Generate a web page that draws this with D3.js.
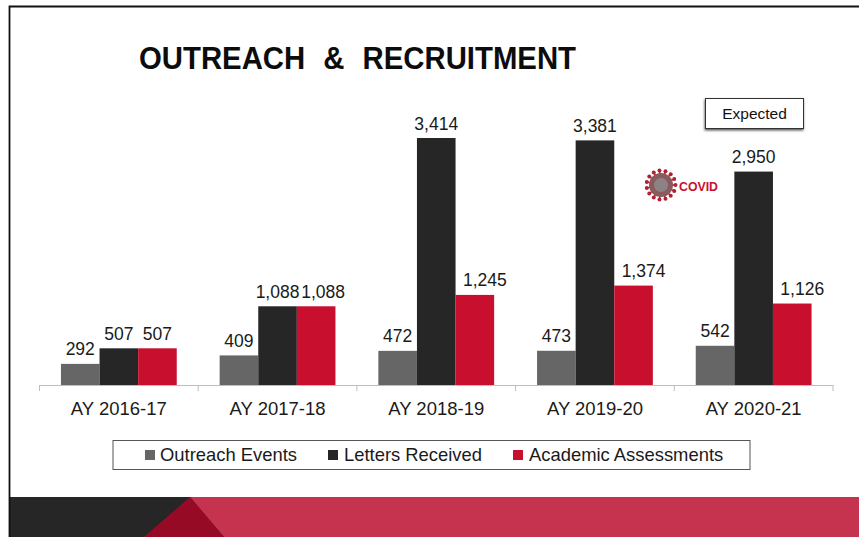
<!DOCTYPE html>
<html><head><meta charset="utf-8">
<script src="https://cdn.jsdelivr.net/npm/d3@7/dist/d3.min.js"></script>
<style>html,body{margin:0;padding:0;background:#fff}svg{display:block}text{font-family:"Liberation Sans",Arial,sans-serif}</style>
</head><body><svg id="c" width="859" height="537"></svg>
<script>
const categories=["AY 2016-17","AY 2017-18","AY 2018-19","AY 2019-20","AY 2020-21"];
const seriesNames=["Outreach Events","Letters Received","Academic Assessments"];
const outreach=[292,409,472,473,542];
const letters=[507,1088,3414,3381,2950];
const assessments=[507,1088,1245,1374,1126];
const colors=["#666666","#262626","#c8102e"];
const all=[outreach,letters,assessments];
const fmt=d3.format(",");
const svg=d3.select("#c");
svg.append("rect").attr("width",859).attr("height",537).attr("fill","#fff");
// footer
svg.append("rect").attr("x",10).attr("y",497).attr("width",849).attr("height",40).attr("fill","#262626");
svg.append("polygon").attr("points","190,497 859,497 859,537 224,537").attr("fill","#c5334f");
svg.append("polygon").attr("points","190,497 224,537 144,537").attr("fill","#960a26");
// frame
svg.append("path").attr("d","M9.5,537V6.5H859").attr("fill","none").attr("stroke","#111").attr("stroke-width",1.8);
// title
svg.append("text").attr("x",139).attr("y",69).attr("font-size",32).attr("font-weight",700)
  .attr("textLength",437).attr("lengthAdjust","spacingAndGlyphs").style("white-space","pre").style("word-spacing","1px")
  .attr("fill","#0c0c0c").text("OUTREACH  &  RECRUITMENT");
// scales
const x=d3.scaleBand().domain(categories).range([39.5,833]);
const bw=38.6;
const x1=d3.scaleBand().domain(seriesNames).range([0,bw*3]);
const y=d3.scaleLinear().domain([0,3414]).range([385,138]);
const axis=d3.axisBottom(x).tickSize(0).tickPadding(17);
const ag=svg.append("g").attr("transform","translate(0,385)").call(axis);
ag.select(".domain").remove();
ag.selectAll("text").attr("font-size",18.5).attr("fill","#1a1a1a").style("font-family",'"Liberation Sans",Arial,sans-serif');
// axis line + ticks between groups
const edges=categories.map(c=>x(c)).concat([x.range()[1]]);
svg.append("line").attr("x1",edges[0]).attr("x2",edges[5]).attr("y1",385.5).attr("y2",385.5).attr("stroke","#bdbdbd").attr("stroke-width",1);
svg.selectAll(".tk").data(edges).join("line").attr("class","tk").attr("x1",d=>d).attr("x2",d=>d).attr("y1",385).attr("y2",391).attr("stroke","#bdbdbd");
// bars
const off=(x.bandwidth()-bw*3)/2;
seriesNames.forEach((s,si)=>{
  const g=svg.append("g");
  g.selectAll("rect").data(all[si]).join("rect")
    .attr("x",(d,i)=>x(categories[i])+off+x1(s)).attr("y",d=>y(d))
    .attr("width",x1.bandwidth()).attr("height",d=>385-y(d)).attr("fill",colors[si]);
  // the reference shifts four-digit assessment labels clear of the neighbouring bar or label
  const nudge=i=>{
    if(si!==2 || assessments[i]<1000) return 0;
    return assessments[i]===letters[i]?7:10;
  };
  g.selectAll("text").data(all[si]).join("text")
    .attr("x",(d,i)=>x(categories[i])+off+x1(s)+x1.bandwidth()/2+nudge(i)).attr("y",d=>y(d)-8.5)
    .attr("text-anchor","middle").attr("font-size",17.5).attr("fill","#1a1a1a").text(fmt);
});
// legend
svg.append("rect").attr("x",113).attr("y",440.5).attr("width",637).attr("height",29).attr("fill","#fff").attr("stroke","#555").attr("stroke-width",1);
const legX=[145,328,513], legT=[160,344,529];
seriesNames.forEach((s,i)=>{
  svg.append("rect").attr("x",legX[i]).attr("y",450).attr("width",10).attr("height",10).attr("fill",colors[i]);
  svg.append("text").attr("x",legT[i]).attr("y",461).attr("font-size",18.4).attr("fill","#1a1a1a").text(s);
});
// Expected box
const shadow=svg.append("defs").append("filter").attr("id","sh").attr("x","-10%").attr("y","-10%").attr("width","120%").attr("height","130%");
shadow.append("feDropShadow").attr("dx",-0.5).attr("dy",1.5).attr("stdDeviation",1).attr("flood-color","#555");
svg.append("rect").attr("x",705.5).attr("y",98.5).attr("width",98).attr("height",30).attr("fill","#fff").attr("stroke","#333").attr("filter","url(#sh)");
svg.append("text").attr("x",754.5).attr("y",119).attr("text-anchor","middle").attr("font-size",15.5).attr("fill","#111").text("Expected");
// COVID marker
const vg=svg.append("g").attr("transform","translate(661,185)");
const spikes=d3.range(0,360,24);
vg.selectAll("line").data(spikes).join("line")
  .attr("x2",d=>15*Math.cos(d*Math.PI/180)).attr("y2",d=>15*Math.sin(d*Math.PI/180))
  .attr("stroke","#a51c2c").attr("stroke-width",1.5);
vg.append("circle").attr("r",12).attr("fill","#8a5a5f");
vg.selectAll("circle.s").data(spikes).join("circle").attr("class","s")
  .attr("cx",d=>14.5*Math.cos(d*Math.PI/180)).attr("cy",d=>14.5*Math.sin(d*Math.PI/180)).attr("r",2).attr("fill","#b3202f");
vg.append("circle").attr("r",7).attr("fill","#8d8d8d").attr("opacity",.8);
svg.append("text").attr("x",679).attr("y",191).attr("font-size",13).attr("font-weight",700).attr("fill","#c8102e")
  .attr("textLength",39).attr("lengthAdjust","spacingAndGlyphs").text("COVID");
</script></body></html>
